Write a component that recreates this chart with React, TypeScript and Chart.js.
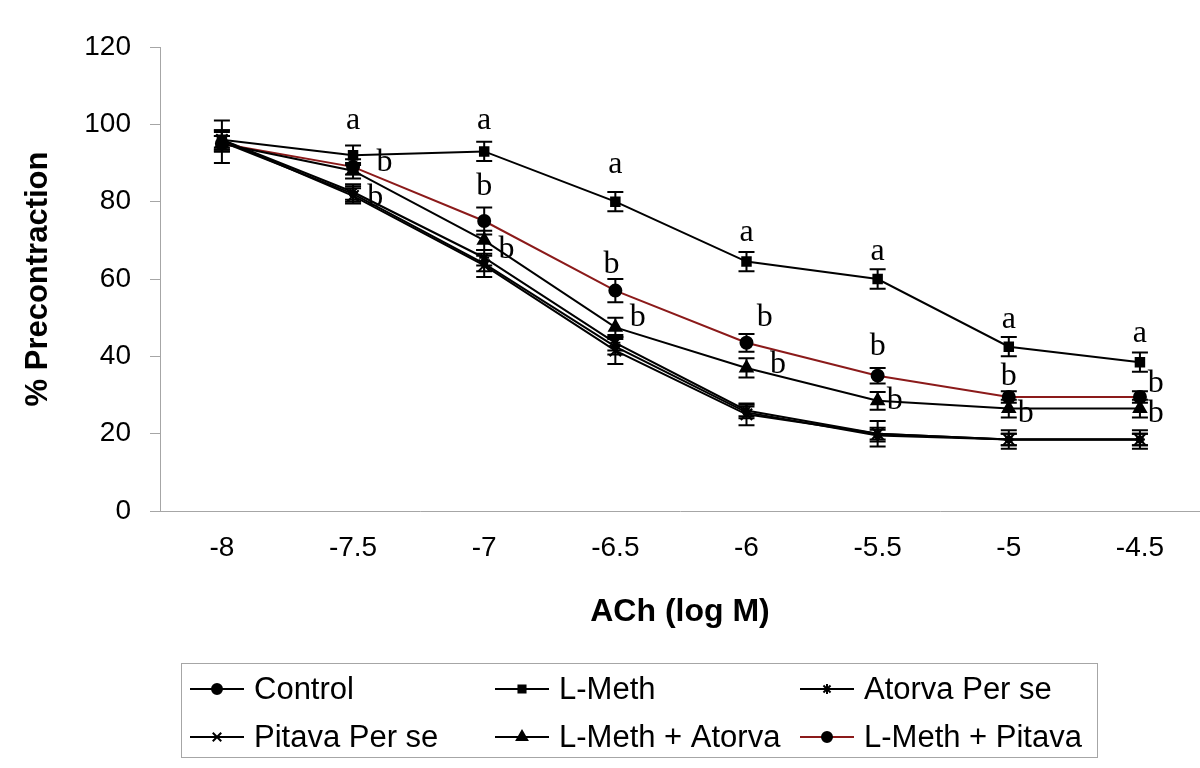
import React, { useEffect, useRef } from 'react';
import { Chart, registerables } from 'chart.js';
import { drawPoint } from 'chart.js/helpers';

Chart.register(...registerables);

// ---------- data ----------
const xValues = [-8, -7.5, -7, -6.5, -6, -5.5, -5, -4.5];
const xTickLabels = ['-8', '-7.5', '-7', '-6.5', '-6', '-5.5', '-5', '-4.5'];

const controlValues = [95.5, 82, 64, 42.5, 25.5, 19.5, 18.5, 18.5];
const lMethValues = [96, 92, 93, 80, 64.5, 60, 42.5, 38.5];
const atorvaValues = [96, 82.5, 65.5, 43.5, 26, 20, 18.5, 18.5];
const pitavaValues = [96, 81.5, 63.5, 41.5, 25, 20, 18.5, 18.5];
const lMethAtorvaValues = [95, 88, 70, 47.5, 37, 28.5, 26.5, 26.5];
const lMethPitavaValues = [95, 89, 75, 57, 43.5, 35, 29.5, 29.5];

const controlErrors = [5.5, 2, 2, 2, 1.5, 1.5, 1.5, 1.5];
const lMethErrors = [2.5, 2.5, 2.5, 2.5, 2.5, 2.5, 2.5, 2.5];
const atorvaErrors = [2, 2, 2, 2, 1.5, 1.5, 1.5, 1.5];
const pitavaErrors = [2.5, 2, 3, 3.5, 2.8, 3.3, 2.4, 2.4];
const lMethAtorvaErrors = [2, 2, 2.5, 2.5, 2.5, 2.3, 2.3, 2.3];
const lMethPitavaErrors = [2, 2, 3.5, 3, 2.3, 2, 1.5, 1.5];

const seriesNames = ['Control', 'L-Meth', 'Atorva Per se', 'Pitava Per se', 'L-Meth + Atorva', 'L-Meth + Pitava'];

const yTickValues = [0, 20, 40, 60, 80, 100, 120];

// significance letters, in data space (log M, % precontraction)
const letterAPoints = [
  { x: -7.5, y: 101 }, { x: -7, y: 101 }, { x: -6.5, y: 89.5 }, { x: -6, y: 72 },
  { x: -5.5, y: 67 }, { x: -5, y: 49.5 }, { x: -4.5, y: 46 },
];
const letterBPoints = [
  { x: -7.38, y: 90 }, { x: -7.415, y: 81 }, { x: -7, y: 84 }, { x: -6.915, y: 67.5 },
  { x: -6.515, y: 63.6 }, { x: -6.415, y: 50 }, { x: -5.93, y: 50 }, { x: -5.88, y: 37.8 },
  { x: -5.5, y: 42.4 }, { x: -5.435, y: 28.5 }, { x: -5, y: 34.7 }, { x: -4.935, y: 25.3 },
  { x: -4.44, y: 33 }, { x: -4.44, y: 25.3 },
];

// ---------- styles ----------
const SANS = '"Liberation Sans", Arial, sans-serif';
const SERIF = '"Liberation Serif", "Times New Roman", serif';
const BLACK = '#000000';
const RED = '#8b1a1a';
const AXIS_GREY = '#a6a6a6';

const errorsByDataset = [controlErrors, lMethErrors, atorvaErrors, pitavaErrors, lMethAtorvaErrors, lMethPitavaErrors];
const legendRadius = [5, 5, 5, 6, 6, 5];

const errorBarPlugin = {
  id: 'errorBars',
  afterDatasetsDraw(chart: any) {
    const { ctx } = chart;
    const yScale = chart.scales.y;
    ctx.save();
    ctx.strokeStyle = BLACK;
    ctx.lineWidth = 2;
    chart.data.datasets.forEach((ds: any, di: number) => {
      const meta = chart.getDatasetMeta(di);
      const errs = errorsByDataset[di];
      meta.data.forEach((pt: any, i: number) => {
        const v = ds.data[i].y;
        const e = errs[i];
        const x = pt.x;
        const yTop = yScale.getPixelForValue(v + e);
        const yBot = yScale.getPixelForValue(v - e);
        const cap = 8;
        ctx.beginPath();
        ctx.moveTo(x, yTop);
        ctx.lineTo(x, yBot);
        ctx.moveTo(x - cap, yTop);
        ctx.lineTo(x + cap, yTop);
        ctx.moveTo(x - cap, yBot);
        ctx.lineTo(x + cap, yBot);
        ctx.stroke();
      });
    });
    ctx.restore();
  },
};

const lettersPlugin = {
  id: 'letters',
  afterDraw(chart: any) {
    const { ctx } = chart;
    const xs = chart.scales.x;
    const ys = chart.scales.y;
    ctx.save();
    ctx.fillStyle = BLACK;
    ctx.font = `32px ${SERIF}`;
    ctx.textAlign = 'center';
    ctx.textBaseline = 'middle';
    const draw = (pts: { x: number; y: number }[], t: string) =>
      pts.forEach((p) => ctx.fillText(t, xs.getPixelForValue(p.x), ys.getPixelForValue(p.y)));
    draw(letterAPoints, 'a');
    draw(letterBPoints, 'b');
    ctx.restore();
  },
};

const legendPlugin = {
  id: 'boxLegend',
  afterDraw(chart: any) {
    const { ctx } = chart;
    ctx.save();
    ctx.strokeStyle = AXIS_GREY;
    ctx.lineWidth = 1;
    ctx.strokeRect(181.5, 663.5, 916, 94);
    const cols = [190, 495, 800];
    const rows = [689, 737];
    ctx.font = `31px ${SANS}`;
    ctx.textBaseline = 'middle';
    ctx.textAlign = 'left';
    chart.data.datasets.forEach((ds: any, i: number) => {
      const cx = cols[i % 3];
      const cy = rows[Math.floor(i / 3)];
      ctx.strokeStyle = ds.borderColor;
      ctx.lineWidth = 2;
      ctx.beginPath();
      ctx.moveTo(cx, cy);
      ctx.lineTo(cx + 54, cy);
      ctx.stroke();
      ctx.fillStyle = BLACK;
      ctx.strokeStyle = BLACK;
      drawPoint(ctx, {
        pointStyle: ds.pointStyle,
        radius: legendRadius[i],
        rotation: 0,
        borderWidth: 2,
      }, cx + 27, cy);
      ctx.fillStyle = BLACK;
      ctx.fillText(ds.label, cx + 64, cy + 1);
    });
    ctx.restore();
  },
};

function makeDataset(label: string, values: number[], color: string, pointStyle: string, radius: number, order: number) {
  return {
    label,
    data: values.map((v, i) => ({ x: xValues[i], y: v })),
    borderColor: color,
    backgroundColor: BLACK,
    borderWidth: 2,
    pointStyle,
    pointRadius: radius,
    pointHoverRadius: radius,
    pointBackgroundColor: BLACK,
    pointBorderColor: BLACK,
    pointBorderWidth: 2,
    tension: 0,
    fill: false,
    order,
  };
}

export default function App() {
  const canvasRef = useRef<HTMLCanvasElement | null>(null);

  useEffect(() => {
    if (!canvasRef.current) return;
    const chart = new Chart(canvasRef.current, {
      type: 'line',
      data: {
        datasets: [
          makeDataset(seriesNames[0], controlValues, BLACK, 'circle', 3, 10),
          makeDataset(seriesNames[1], lMethValues, BLACK, 'rect', 6, 0),
          makeDataset(seriesNames[2], atorvaValues, BLACK, 'star', 5, 5),
          makeDataset(seriesNames[3], pitavaValues, BLACK, 'crossRot', 8, 0),
          makeDataset(seriesNames[4], lMethAtorvaValues, BLACK, 'triangle', 7, 0),
          makeDataset(seriesNames[5], lMethPitavaValues, RED, 'circle', 6, 0),
        ] as any,
      },
      options: {
        animation: false,
        responsive: false,
        maintainAspectRatio: false,
        devicePixelRatio: 1,
        layout: { autoPadding: false, padding: { left: 16, top: 47, right: 0, bottom: 127 } },
        plugins: {
          legend: { display: false },
          tooltip: { enabled: false },
        },
        scales: {
          x: {
            type: 'linear',
            min: -8.236,
            max: -4.271,
            afterBuildTicks: (scale: any) => { scale.ticks = xValues.map((v) => ({ value: v })); },
            grid: { display: false, drawTicks: false },
            border: { display: true, color: AXIS_GREY, width: 1 },
            ticks: {
              color: BLACK,
              font: { family: SANS, size: 28 },
              padding: 20,
              maxRotation: 0,
              autoSkip: false,
              callback: (_v: any, i: number) => xTickLabels[i],
            },
            title: {
              display: true,
              text: 'ACh (log M)',
              color: BLACK,
              font: { family: SANS, size: 32, weight: 'bold' },
              padding: { top: 0, bottom: 10 },
            },
            afterFit: (scale: any) => { scale.height = 130; },
          },
          y: {
            min: 0,
            max: 120,
            afterBuildTicks: (scale: any) => { scale.ticks = yTickValues.map((v) => ({ value: v })); },
            grid: { display: true, drawOnChartArea: false, drawTicks: true, tickLength: 10, color: AXIS_GREY },
            border: { display: true, color: AXIS_GREY, width: 1 },
            ticks: { color: BLACK, font: { family: SANS, size: 28 }, padding: 19 },
            title: {
              display: true,
              text: '% Precontraction',
              color: BLACK,
              font: { family: SANS, size: 31, weight: 'bold' },
              padding: { top: 4, bottom: 4 },
            },
            afterFit: (scale: any) => { scale.width = 144; },
          },
        },
      } as any,
      plugins: [errorBarPlugin, lettersPlugin, legendPlugin],
    });
    return () => chart.destroy();
  }, []);

  return (
    <div style={{ position: 'fixed', left: 0, top: 0, width: 1200, height: 768, background: '#ffffff' }}>
      <canvas ref={canvasRef} width={1200} height={768} style={{ width: 1200, height: 768, display: 'block' }} />
    </div>
  );
}
